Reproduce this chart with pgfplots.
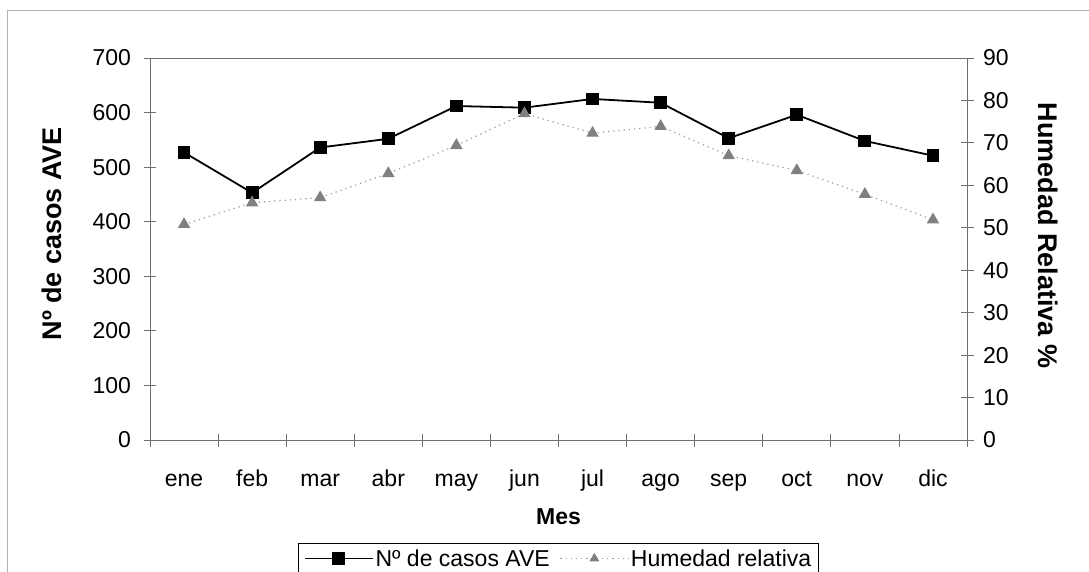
\documentclass[border=0pt]{standalone}
\usepackage{pgfplots}
\pgfplotsset{compat=1.18}
\usepackage{fontspec}
\setmainfont{Liberation Sans}
\definecolor{axgray}{HTML}{707070}
\definecolor{trigray}{HTML}{808080}
\definecolor{dotgray}{HTML}{9A9A9A}
\pgfplotstableread{
x cases
0 527
1 453
2 536
3 552
4 612
5 609
6 625
7 618
8 553
9 596
10 548
11 521
}\casestable
\pgfplotstableread{
x hum
0 50.8
1 55.9
2 57.1
3 62.8
4 69.4
5 76.9
6 72.3
7 73.9
8 67.0
9 63.5
10 57.9
11 51.9
}\humtable
\begin{document}
\begin{tikzpicture}
\useasboundingbox (0,0) rectangle (1089pt,571pt);
\draw[gray!60, line width=1pt] (7pt,-5pt) -- (7pt,560pt) -- (1095pt,560pt);
\pgfplotsset{
  common/.style={
    at={(150pt,131pt)}, anchor=south west,
    width=817pt, height=382pt, scale only axis,
    xmin=-0.5, xmax=11.5,
    tick align=center,
    major tick length=13pt, minor tick length=13pt,
    every tick/.style={axgray, line width=0.8pt},
    axis line style={axgray, line width=0.9pt},
    tick label style={font=\fontsize{23}{27}\selectfont},
    /pgf/number format/assume math mode=true,
    legend image code/.code={\draw[mark repeat=2,mark phase=2,##1] plot coordinates {(0pt,0pt) (34pt,0pt) (68pt,0pt)};},
  }
}
\begin{axis}[
  common,
  ymin=0, ymax=700,
  ytick={0,100,...,700},
  axis y line*=left,
  axis x line*=bottom,
  xtick={0,...,11},
  xticklabels={ene,feb,mar,abr,may,jun,jul,ago,sep,oct,nov,dic},
  major x tick style={draw=none},
  minor xtick={-0.5,0.5,...,11.5},
  xticklabel style={anchor=base, yshift=-40pt},
  yticklabel style={xshift=-9pt},
  xlabel={\textbf{Mes}},
  xlabel style={font=\fontsize{23}{27}\selectfont, at={(axis description cs:0.5,-0.202)}, anchor=center},
  ylabel={\textbf{Nº de casos AVE}},
  ylabel style={font=\fontsize{27}{32}\selectfont, at={(axis description cs:-0.12,0.54)}, anchor=center},
  legend style={at={(axis description cs:0.5,-0.2696)}, anchor=north, legend columns=2,
    draw=black, line width=0.8pt, font=\fontsize{23}{27}\selectfont,
    inner xsep=5pt, inner ysep=4pt,
    /tikz/every odd column/.append style={column sep=0pt},
    /tikz/every even column/.append style={column sep=8pt}},
  legend cell align=left,
]
\addplot[black, line width=1.8pt, mark=square*, mark size=5.5pt, mark options={solid}] table[x=x,y=cases]{\casestable};
\addlegendentry{Nº de casos AVE}
\addlegendimage{dotgray, line width=1.2pt, dash pattern=on 1.2pt off 4pt, mark=triangle*, mark size=4.5pt, mark options={solid, draw=trigray, fill=trigray}}
\addlegendentry{Humedad relativa}
\draw[axgray, line width=0.9pt] (rel axis cs:0,1) -- (rel axis cs:1,1);
\end{axis}
\begin{axis}[
  common,
  ymin=0, ymax=90,
  ytick={0,10,...,90},
  axis y line*=right,
  axis x line=none,
  yticklabel style={xshift=6pt},
  ylabel={\textbf{Humedad Relativa \%}},
  ylabel style={font=\fontsize{27}{32}\selectfont, rotate=180, at={(axis description cs:1.099,0.535)}, anchor=center},
]
\addplot[dotgray, line width=1.2pt, dash pattern=on 1.2pt off 4pt, mark=triangle*, mark size=6pt, mark options={solid, draw=trigray, fill=trigray}] table[x=x,y=hum]{\humtable};
\end{axis}
\end{tikzpicture}
\end{document}
